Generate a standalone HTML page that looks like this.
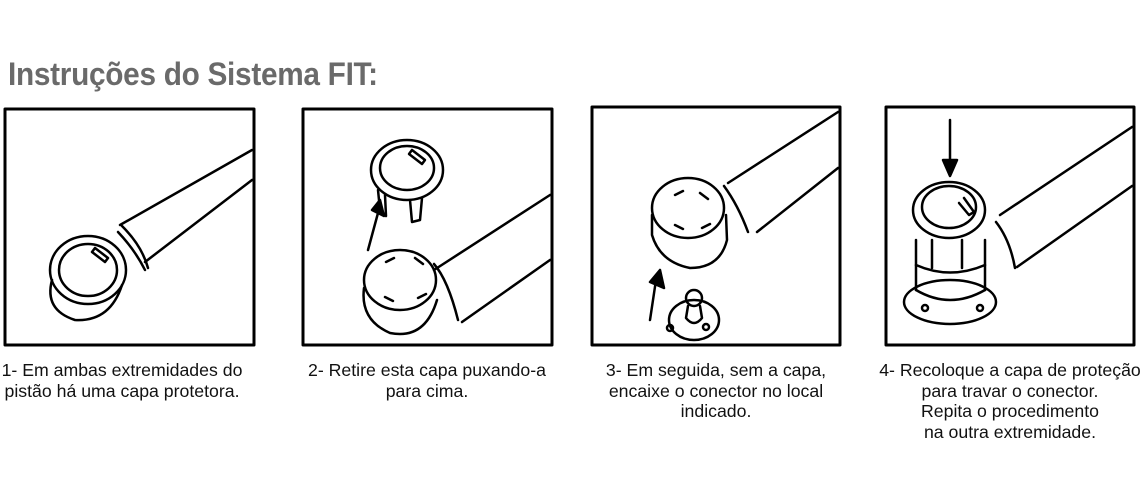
<!DOCTYPE html>
<html><head><meta charset="utf-8"><style>
body{margin:0;background:#fff;width:1140px;height:500px;overflow:hidden;position:relative;font-family:"Liberation Sans",sans-serif}
.t{position:absolute;left:8px;top:56px;font-size:32px;font-weight:bold;color:#6a6a6a;transform:scaleX(0.93);transform-origin:left top;white-space:nowrap;letter-spacing:-0.3px}
.c{position:absolute;top:360px;font-size:17.7px;line-height:20.5px;text-align:center;color:#111;white-space:nowrap}
</style></head><body>
<div class="t">Instruções do Sistema FIT:</div>
<svg width="1140" height="500" style="position:absolute;left:0;top:0" fill="none" stroke="#000" stroke-width="2.5" stroke-linejoin="round" stroke-linecap="round">
<g stroke-width="3">
<rect x="5" y="109" width="249" height="236"/>
<rect x="303" y="109" width="249" height="236"/>
<rect x="592" y="107" width="248" height="238"/>
<rect x="886" y="107" width="248" height="238"/>
</g>
<!-- box1 -->
<path d="M252 150 L120 225 M252 180 L145 262"/>
<path d="M118 232 Q135 250 145 270 M122 226 Q142 246 148 268"/>
<ellipse cx="88" cy="270" rx="38" ry="34"/>
<ellipse cx="88" cy="270" rx="29" ry="26"/>
<path d="M52 280 Q44 310 75 320 Q110 322 122 285"/>
<path d="M95 248 L108 258 L105 262 L92 252 Z"/>
<!-- box2 -->
<ellipse cx="407" cy="170" rx="36" ry="30"/>
<ellipse cx="407" cy="168" rx="27" ry="22"/>
<path d="M412 150 L425 160 L422 164 L409 154 Z"/>
<path d="M378 190 L380 210 L386 216 L385 195 M410 200 L412 222 L420 220 L422 198"/>
<path d="M368 250 L378 213"/><path d="M372 210 L380 200 L384 216 Z" fill="#000"/>
<path d="M550 195 L434 270 M550 260 L462 322"/>
<ellipse cx="400" cy="280" rx="36" ry="30"/>
<path d="M386 262 l8 -4 M415 258 l8 6 M385 297 l8 4 M418 298 l8 -4"/>
<path d="M364 288 Q360 320 390 333 Q425 340 437 300"/>
<path d="M434 264 Q448 280 458 320"/>
<!-- box3 -->
<path d="M838 112 L728 183 M838 168 L757 232"/>
<path d="M724 186 Q738 205 748 232"/>
<ellipse cx="688" cy="208" rx="36" ry="30"/>
<path d="M675 195 l8 -4 M700 193 l8 6 M675 225 l8 4 M702 228 l8 -4"/>
<path d="M652 215 L652 235 Q660 262 690 268 Q720 268 727 240 L726 215"/>
<path d="M650 320 L656 280"/><path d="M650 282 L660 270 L664 288 Z" fill="#000"/>
<ellipse cx="694" cy="320" rx="25" ry="20"/>
<circle cx="694" cy="298" r="8"/>
<path d="M688 306 L686 318 Q694 328 702 318 L700 306"/>
<circle cx="670" cy="328" r="3"/><circle cx="706" cy="327" r="3"/>
<!-- box4 -->
<path d="M950 120 L950 168"/><path d="M943 160 L950 176 L957 160 Z" fill="#000"/>
<path d="M1132 127 L1000 215 M1132 186 L1017 267"/>
<path d="M996 222 Q1010 240 1015 268"/>
<ellipse cx="949" cy="210" rx="36" ry="28"/>
<ellipse cx="949" cy="207" rx="27" ry="21"/>
<path d="M964 198 l10 14 l-5 3 l-10 -12"/>
<path d="M916 240 L916 290 M985 240 L985 290 M932 240 L932 268 M962 240 L962 268"/>
<path d="M916 265 Q950 280 985 265"/>
<ellipse cx="950" cy="302" rx="46" ry="22"/>
<path d="M916 290 Q950 310 985 290"/>
<circle cx="925" cy="308" r="3"/><circle cx="980" cy="308" r="3"/>
</svg>
<div class="c" style="left:-13px;width:270px">1- Em ambas extremidades do<br>pistão há uma capa protetora.</div>
<div class="c" style="left:292px;width:270px">2- Retire esta capa puxando-a<br>para cima.</div>
<div class="c" style="left:581px;width:270px">3- Em seguida, sem a capa,<br>encaixe o conector no local<br>indicado.</div>
<div class="c" style="left:870px;width:280px">4- Recoloque a capa de proteção<br>para travar o conector.<br>Repita o procedimento<br>na outra extremidade.</div>
</body></html>
